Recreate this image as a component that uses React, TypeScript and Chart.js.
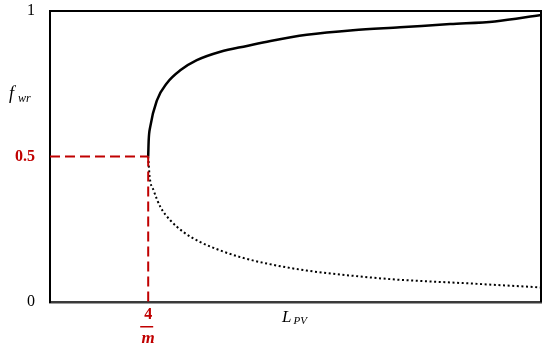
import React, { useEffect, useRef } from "react";
import { Chart, registerables } from "chart.js";

Chart.register(...registerables);

const RED = "#c00000";

// x in arbitrary units of L_PV (0..100), junction at 4/m = 20
const upperX = [20, 20.1, 20.4, 21.8, 23.8, 26.6, 29.9, 34.7, 40.1, 44.9, 52.3, 61.7, 71.3, 81.5, 90.6, 100];
const upperY = [0.5, 0.556, 0.601, 0.694, 0.752, 0.797, 0.831, 0.86, 0.88, 0.897, 0.918, 0.934, 0.944, 0.955, 0.964, 0.986];
const lowerX = [20, 20.3, 21.1, 22.5, 24.5, 27.2, 30.6, 34.7, 38.8, 44.2, 52.3, 61.7, 70.6, 84.1, 100];
const lowerY = [0.5, 0.43, 0.384, 0.326, 0.281, 0.24, 0.206, 0.177, 0.154, 0.132, 0.108, 0.09, 0.077, 0.065, 0.05];
const junctionX = 20;
const junctionY = 0.5;
const yTicks = [0, 0.5, 1];
const yTickLabels = ["0", "0.5", "1"];

const labelsPlugin = {
  id: "labelsPlugin",
  afterDraw(chart: any) {
    const ctx = chart.ctx;
    const a = chart.chartArea;
    const xs = chart.scales.x;
    ctx.save();
    // top & right borders of the box
    ctx.strokeStyle = "#000";
    ctx.lineWidth = 2;
    ctx.beginPath();
    ctx.moveTo(a.left, a.top);
    ctx.lineTo(a.right, a.top);
    ctx.lineTo(a.right, a.bottom);
    ctx.stroke();

    // fraction 4/m
    const fx = xs.getPixelForValue(junctionX);
    ctx.fillStyle = RED;
    ctx.textAlign = "center";
    ctx.textBaseline = "alphabetic";
    ctx.font = "bold 16px 'Liberation Serif'";
    ctx.fillText("4", fx, a.bottom + 17);
    ctx.fillRect(fx - 8, a.bottom + 24, 13, 1.5);
    ctx.font = "bold italic 17px 'Liberation Serif'";
    ctx.fillText("m", fx, a.bottom + 41);

    // x title L_PV
    ctx.fillStyle = "#000";
    ctx.textAlign = "left";
    ctx.font = "italic 17px 'Liberation Serif'";
    ctx.fillText("L", 282, a.bottom + 20);
    ctx.font = "italic 11px 'Liberation Serif'";
    ctx.fillText("PV", 293.5, a.bottom + 22);

    // y title f_wr
    ctx.font = "italic 18px 'Liberation Serif'";
    ctx.fillText("f", 9, 99);
    ctx.font = "italic 12px 'Liberation Serif'";
    ctx.fillText("wr", 18, 102);
    ctx.restore();
  },
};

export default function App() {
  const ref = useRef<HTMLCanvasElement>(null);
  useEffect(() => {
    document.body.style.margin = "0";
    const chart = new Chart(ref.current!, {
      type: "line",
      data: {
        datasets: [
          {
            data: [
              { x: 0, y: junctionY },
              { x: junctionX, y: junctionY },
            ],
            borderColor: RED,
            borderWidth: 2,
            borderDash: [10, 5],
            pointRadius: 0,
          },
          {
            data: [
              { x: junctionX, y: junctionY },
              { x: junctionX, y: 0 },
            ],
            borderColor: RED,
            borderWidth: 2,
            borderDash: [10, 5],
            pointRadius: 0,
          },
          {
            data: upperX.map((x, i) => ({ x, y: upperY[i] })),
            borderColor: "#000",
            borderWidth: 2.5,
            pointRadius: 0,
            cubicInterpolationMode: "monotone",
          },
          {
            data: lowerX.map((x, i) => ({ x, y: lowerY[i] })),
            borderColor: "#000",
            borderWidth: 2,
            borderDash: [2, 2.6],
            pointRadius: 0,
            cubicInterpolationMode: "monotone",
          },
        ],
      },
      options: {
        animation: false,
        responsive: false,
        layout: { padding: { top: 11, right: 9, left: 0, bottom: 0 } },
        plugins: { legend: { display: false }, tooltip: { enabled: false } },
        scales: {
          x: {
            type: "linear",
            min: 0,
            max: 100,
            grid: { display: false, drawTicks: false },
            border: { display: true, color: "#3a3a3a", width: 2.5 },
            ticks: { display: false },
            afterFit: (s: any) => {
              s.height = 48;
              s.paddingLeft = 0;
              s.paddingRight = 0;
            },
          },
          y: {
            type: "linear",
            min: 0,
            max: 1,
            grid: { display: false, drawTicks: false },
            border: { display: true, color: "#000", width: 2 },
            afterBuildTicks: (s: any) => {
              s.ticks = yTicks.map((v) => ({ value: v }));
            },
            afterFit: (s: any) => {
              s.width = 50;
              s.paddingTop = 0;
              s.paddingBottom = 0;
            },
            ticks: {
              padding: 15,
              callback: (v: any) => yTickLabels[yTicks.indexOf(Number(v))] ?? "",
              color: (c: any) => (c.tick && c.tick.value === 0.5 ? RED : "#000"),
              font: (c: any) =>
                c.tick && c.tick.value === 0.5
                  ? { family: "'Liberation Serif'", size: 16, weight: "bold" }
                  : { family: "'Liberation Serif'", size: 16 },
            },
          },
        },
      },
      plugins: [labelsPlugin],
    } as any);
    return () => chart.destroy();
  }, []);
  return (
    <div style={{ width: 550, height: 350 }}>
      <canvas ref={ref} width={550} height={350} />
    </div>
  );
}
